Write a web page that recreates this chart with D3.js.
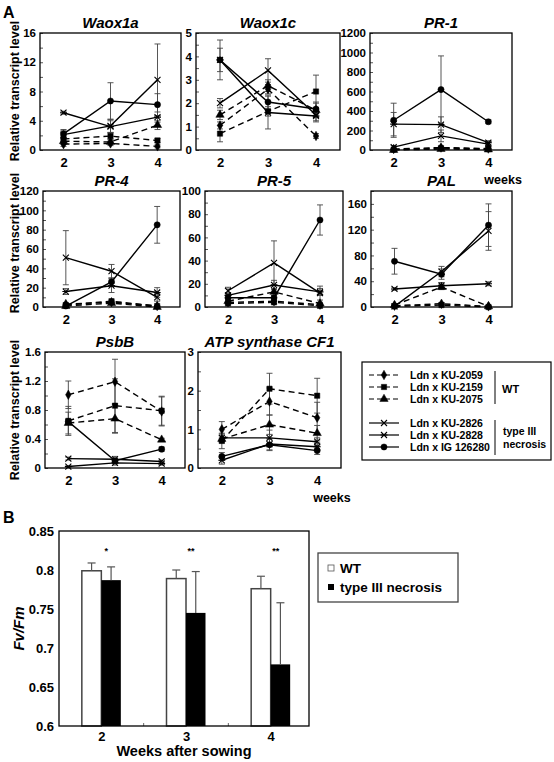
<!DOCTYPE html>
<html><head><meta charset="utf-8">
<script src="https://cdn.jsdelivr.net/npm/d3@7"></script>
<style>
body{margin:0;background:#fff}
svg text{font-family:"Liberation Sans",Arial,Helvetica,sans-serif;font-weight:bold;fill:#000}
</style></head>
<body><svg id="c" width="554" height="762"></svg>
<script>
// ---------------- DATA ----------------
const weeks = [2, 3, 4];
const lineNames = ["Ldn x KU-2059", "Ldn x KU-2159", "Ldn x KU-2075", "Ldn x KU-2826", "Ldn x KU-2828", "Ldn x IG 126280"];
const lineGroups = ["WT", "WT", "WT", "type III necrosis", "type III necrosis", "type III necrosis"];

// rows: KU-2059, KU-2159, KU-2075, KU-2826, KU-2828, IG 126280 ; columns: weeks 2,3,4
const waox1aValues = [[0.8, 0.9, 0.5], [1.5, 1.9, 1.3], [1.2, 1.1, 3.4], [2.1, 3.3, 9.6], [5.1, 3.2, 4.5], [2.2, 6.7, 6.2]];
const waox1aErrors = [[0.3, 0.3, 0.2], [0.5, 0.4, 0.3], [0.4, 0.3, 0.6], [0.6, 0.9, 4.9], [0.2, 0.8, 0.7], [0.6, 2.5, 1.5]];
const waox1cValues = [[1.05, 2.6, 0.6], [0.7, 1.65, 2.5], [1.5, 2.75, 1.7], [2.0, 3.4, 1.5], [3.85, 1.6, 1.45], [3.85, 2.05, 1.75]];
const waox1cErrors = [[0.15, 0.2, 0.1], [0.35, 0.2, 0.7], [0.2, 0.25, 0.3], [0.2, 0.5, 0.3], [0.85, 0.7, 0.2], [0.5, 0.3, 0.3]];
const pr1Values = [[10, 25, 15], [5, 20, 10], [0, 10, 5], [30, 145, 60], [265, 260, 75], [305, 620, 290]];
const pr1Errors = [[5, 10, 5], [5, 10, 5], [3, 5, 3], [15, 60, 15], [120, 80, 20], [175, 345, 20]];
const pr4Values = [[3, 5, 1], [2, 6, 1], [1, 4, 0], [51, 37, 10], [16, 22, 15], [1, 26, 85]];
const pr4Errors = [[1, 1, 0.5], [1, 1, 0.5], [1, 1, 0.5], [28, 7, 4], [3, 7, 5], [1, 4, 19]];
const pr5Values = [[4, 5, 2], [3, 4, 1], [5, 13, 3], [14, 38, 12], [10, 19, 13], [8, 8, 75]];
const pr5Errors = [[1, 2, 1], [1, 1, 1], [1, 3, 1], [3, 19, 6], [2, 4, 3], [2, 2, 13]];
const palValues = [[2, 5, 1], [1, 3, 0], [3, 31, 1], [1, 55, 118], [28, 33, 36], [71, 51, 127]];
const palErrors = [[1, 2, 1], [1, 1, 0.5], [1, 4, 1], [1, 8, 30], [2, 5, 3], [20, 8, 33]];
const psbbValues = [[1.01, 1.19, 0.78], [0.65, 0.86, 0.79], [0.62, 0.68, 0.39], [0.13, 0.12, 0.09], [0.02, 0.07, 0.06], [0.64, 0.10, 0.26]];
const psbbErrors = [[0.19, 0.31, 0.2], [0.2, 0.37, 0.2], [0.15, 0.2, 0.02], [0.02, 0.04, 0.02], [0.01, 0.03, 0.02], [0.03, 0.03, 0.03]];
const atpValues = [[1.0, 1.72, 1.3], [0.7, 2.05, 1.87], [0.75, 1.12, 0.9], [0.78, 0.78, 0.68], [0.2, 0.62, 0.55], [0.3, 0.6, 0.45]];
const atpErrors = [[0.2, 0.35, 0.4], [0.2, 0.4, 0.45], [0.1, 0.25, 0.2], [0.1, 0.2, 0.1], [0.1, 0.15, 0.1], [0.1, 0.15, 0.1]];

// y tick labels
const waox1aTicks = [0, 4, 8, 12, 16];
const waox1cTicks = [0, 1, 2, 3, 4, 5];
const pr1Ticks = [0, 200, 400, 600, 800, 1000, 1200];
const pr4Ticks = [0, 20, 40, 60, 80, 100, 120];
const pr5Ticks = [0, 20, 40, 60, 80, 100];
const palTicks = [0, 40, 80, 120, 160];
const psbbTicks = [0, 0.4, 0.8, 1.2, 1.6];
const atpTicks = [0, 1, 2, 3];

// Panel B
const fvWeeks = ["2", "3", "4"];
const wtFvFm = [0.799, 0.789, 0.776];
const wtFvFmErr = [0.010, 0.011, 0.016];
const necFvFm = [0.787, 0.745, 0.679];
const necFvFmErr = [0.017, 0.053, 0.079];
const fvStars = ["*", "**", "**"];
const fvTicks = [0.6, 0.65, 0.7, 0.75, 0.8, 0.85];

// ---------------- LAYOUT ----------------
const panels = [
  {title: "Waox1a", values: waox1aValues, errors: waox1aErrors, box: [40, 33, 181, 150], max: 16, ticks: waox1aTicks, minor: 2},
  {title: "Waox1c", values: waox1cValues, errors: waox1cErrors, box: [196, 33, 340, 150], max: 5, ticks: waox1cTicks, minor: 0.5},
  {title: "PR-1", values: pr1Values, errors: pr1Errors, box: [370, 33, 512, 150], max: 1200, ticks: pr1Ticks, minor: 100, weeksLabel: true},
  {title: "PR-4", values: pr4Values, errors: pr4Errors, box: [43, 191, 180, 307], max: 120, ticks: pr4Ticks, minor: 10},
  {title: "PR-5", values: pr5Values, errors: pr5Errors, box: [205, 191, 343, 307], max: 100, ticks: pr5Ticks, minor: 10},
  {title: "PAL", values: palValues, errors: palErrors, box: [371, 191, 512, 307], max: 180, ticks: palTicks, minor: 20},
  {title: "PsbB", values: psbbValues, errors: psbbErrors, box: [45, 352, 185, 468], max: 1.6, ticks: psbbTicks, minor: 0.2},
  {title: "ATP synthase CF1", values: atpValues, errors: atpErrors, box: [198, 352, 341, 468], max: 3, ticks: atpTicks, minor: 0.5, weeksLabel: true}
];
const rowLabelY = [91, 243, 410];

const svg = d3.select("#c");

// marker shapes
const markerKinds = ["diamond", "square", "triangle", "cross", "star", "circle"];
function markerPath(kind) {
  const s = 3;
  switch (kind) {
    case "diamond": return d3.symbol(d3.symbolDiamond, 26)();
    case "square": return d3.symbol(d3.symbolSquare, 28)();
    case "triangle": return d3.symbol(d3.symbolTriangle, 30)();
    case "circle": return d3.symbol(d3.symbolCircle, 30)();
    case "cross": return `M${-s},${-s}L${s},${s}M${-s},${s}L${s},${-s}`;
    case "star": return `M${-s},${-s}L${s},${s}M${-s},${s}L${s},${-s}M${-s - 0.5},0L${s + 0.5},0`;
  }
}
function drawMarker(g, kind, cx, cy) {
  const open = kind === "cross" || kind === "star";
  g.append("path").attr("d", markerPath(kind)).attr("transform", `translate(${cx},${cy})`)
    .attr("fill", open ? "none" : "#000").attr("stroke", "#000").attr("stroke-width", open ? 1.1 : 0.5);
}

// "A"
svg.append("text").attr("x", 3).attr("y", 18).attr("font-size", 16).text("A");

panels.forEach((p, pi) => {
  const [x0, y0, x1, y1] = p.box;
  const x = d3.scaleLinear().domain([1.5, 4.5]).range([x0, x1]);
  const y = d3.scaleLinear().domain([0, p.max]).range([y1, y0]);
  const g = svg.append("g");
  const fmt = d => (d === 0 ? "0" : d3.format("~g")(+d.toFixed(2)));

  // y axis labels
  const ya = g.append("g").attr("transform", `translate(${x0},0)`)
    .call(d3.axisLeft(y).tickValues(p.ticks).tickSize(0).tickPadding(4).tickFormat(fmt));
  ya.select(".domain").remove();
  ya.selectAll("text").attr("font-size", 11.5).attr("font-family", null).attr("fill", "#000");
  // inner minor ticks
  const minorVals = d3.range(0, p.max + p.minor / 2, p.minor);
  const ym = g.append("g").attr("transform", `translate(${x0},0)`)
    .call(d3.axisRight(y).tickValues(minorVals).tickSize(3).tickFormat(""));
  ym.select(".domain").remove();
  ym.selectAll("line").attr("stroke", "#555");

  // x axis labels
  const xa = g.append("g").attr("transform", `translate(0,${y1})`)
    .call(d3.axisBottom(x).tickValues(weeks).tickSize(0).tickPadding(8).tickFormat(d3.format("d")));
  xa.select(".domain").remove();
  xa.selectAll("text").attr("font-size", 13).attr("font-family", null).attr("fill", "#000");

  if (p.weeksLabel) {
    g.append("text").attr("x", x(4) - 4).attr("y", y1 + 34).attr("font-size", 12.5).text("weeks");
  }

  // title
  g.append("text").attr("x", (x0 + x1) / 2).attr("y", y0 - 5).attr("text-anchor", "middle")
    .attr("font-size", 15).attr("font-style", "italic").text(p.title);

  // error bars
  p.values.forEach((vals, si) => {
    vals.forEach((v, wi) => {
      const e = p.errors[si][wi];
      const lo = Math.max(0, v - e), hi = v + e;
      const cx = x(weeks[wi]);
      g.append("line").attr("x1", cx).attr("x2", cx).attr("y1", y(lo)).attr("y2", y(hi))
        .attr("stroke", "#444").attr("stroke-width", 0.9);
      [lo, hi].forEach(b => {
        if (b === 0) return;
        g.append("line").attr("x1", cx - 3).attr("x2", cx + 3).attr("y1", y(b)).attr("y2", y(b))
          .attr("stroke", "#444").attr("stroke-width", 0.9);
      });
    });
  });

  // lines
  const line = d3.line().x((d, i) => x(weeks[i])).y(d => y(d));
  p.values.forEach((vals, si) => {
    g.append("path").attr("d", line(vals)).attr("fill", "none").attr("stroke", "#000")
      .attr("stroke-width", 1.4)
      .attr("stroke-dasharray", lineGroups[si] === "WT" ? "6,4" : null);
  });
  // markers
  p.values.forEach((vals, si) => {
    vals.forEach((v, wi) => drawMarker(g, markerKinds[si], x(weeks[wi]), y(v)));
  });

  // box
  g.append("rect").attr("x", x0).attr("y", y0).attr("width", x1 - x0).attr("height", y1 - y0)
    .attr("fill", "none").attr("stroke", "#000").attr("stroke-width", 1.3);
});

// row y-axis titles
rowLabelY.forEach(cy => {
  svg.append("text").attr("transform", `translate(19,${cy}) rotate(-90)`).attr("text-anchor", "middle")
    .attr("font-size", 12.5).text("Relative transcript level");
});

// legend A
(function () {
  const lg = svg.append("g");
  lg.append("rect").attr("x", 362).attr("y", 362).attr("width", 189).attr("height", 98)
    .attr("fill", "none").attr("stroke", "#000").attr("stroke-width", 1.2);
  const rowsY = [375, 387, 399, 423, 435, 447];
  lineNames.forEach((name, i) => {
    const cy = rowsY[i];
    lg.append("line").attr("x1", 369).attr("x2", 399).attr("y1", cy).attr("y2", cy)
      .attr("stroke", "#000").attr("stroke-width", 1.2)
      .attr("stroke-dasharray", lineGroups[i] === "WT" ? "5,3" : null);
    drawMarker(lg, markerKinds[i], 384, cy);
    lg.append("text").attr("x", 410).attr("y", cy + 4).attr("font-size", 10.5).text(name);
  });
  lg.append("line").attr("x1", 495).attr("x2", 495).attr("y1", 371).attr("y2", 404).attr("stroke", "#000").attr("stroke-width", 1);
  lg.append("line").attr("x1", 495).attr("x2", 495).attr("y1", 420).attr("y2", 455).attr("stroke", "#000").attr("stroke-width", 1);
  lg.append("text").attr("x", 502).attr("y", 393).attr("font-size", 11).text("WT");
  lg.append("text").attr("x", 503).attr("y", 435).attr("font-size", 10.5).text("type III");
  lg.append("text").attr("x", 503).attr("y", 448).attr("font-size", 10.5).text("necrosis");
})();

// ---------------- PANEL B ----------------
(function () {
  const bx0 = 59, bx1 = 309, by0 = 531, by1 = 726;
  const g = svg.append("g");
  g.append("text").attr("x", 3).attr("y", 523).attr("font-size", 16).text("B");
  const xb = d3.scalePoint().domain(fvWeeks).range([bx0, 313]).padding(0.5);
  const yb = d3.scaleLinear().domain([0.6, 0.85]).range([by1, by0]);
  const bw = 19.5;

  const ya = g.append("g").attr("transform", `translate(${bx0},0)`)
    .call(d3.axisLeft(yb).tickValues(fvTicks).tickSize(0).tickPadding(5).tickFormat(d => String(+d.toFixed(2))));
  ya.select(".domain").remove();
  ya.selectAll("text").attr("font-size", 13).attr("font-family", null).attr("fill", "#000");

  const xa = g.append("g").attr("transform", `translate(0,${by1})`)
    .call(d3.axisBottom(xb).tickSize(0).tickPadding(6));
  xa.select(".domain").remove();
  xa.selectAll("text").attr("font-size", 13).attr("font-family", null).attr("fill", "#000");

  // inner boundary ticks
  const step = xb.step();
  [xb("2") + step / 2, xb("3") + step / 2].forEach(tx => {
    g.append("line").attr("x1", tx).attr("x2", tx).attr("y1", by1).attr("y2", by1 - 3).attr("stroke", "#666");
  });

  fvWeeks.forEach((w, i) => {
    const cx = xb(w);
    // WT bar
    g.append("rect").attr("x", cx - bw).attr("y", yb(wtFvFm[i])).attr("width", bw).attr("height", by1 - yb(wtFvFm[i]))
      .attr("fill", "#fff").attr("stroke", "#444").attr("stroke-width", 1.5);
    // necrosis bar
    g.append("rect").attr("x", cx).attr("y", yb(necFvFm[i])).attr("width", bw).attr("height", by1 - yb(necFvFm[i]))
      .attr("fill", "#000");
    // error bars (upper)
    [[cx - bw / 2, wtFvFm[i], wtFvFmErr[i]], [cx + bw / 2, necFvFm[i], necFvFmErr[i]]].forEach(([ex, v, e]) => {
      g.append("line").attr("x1", ex).attr("x2", ex).attr("y1", yb(v)).attr("y2", yb(v + e)).attr("stroke", "#555").attr("stroke-width", 1.2);
      g.append("line").attr("x1", ex - 4).attr("x2", ex + 4).attr("y1", yb(v + e)).attr("y2", yb(v + e)).attr("stroke", "#555").attr("stroke-width", 1.2);
    });
    g.append("text").attr("x", cx + 5).attr("y", yb(0.821)).attr("text-anchor", "middle").attr("font-size", 9)
      .attr("font-weight", "normal").text(fvStars[i]);
  });

  g.append("rect").attr("x", bx0).attr("y", by0).attr("width", bx1 - bx0).attr("height", by1 - by0)
    .attr("fill", "none").attr("stroke", "#000").attr("stroke-width", 1.3);

  g.append("text").attr("x", (bx0 + bx1) / 2).attr("y", 756).attr("text-anchor", "middle").attr("font-size", 14.5)
    .text("Weeks after sowing");
  g.append("text").attr("transform", `translate(24,${(by0 + by1) / 2}) rotate(-90)`).attr("text-anchor", "middle")
    .attr("font-size", 15).attr("font-style", "italic").text("Fv/Fm");

  // legend B
  g.append("rect").attr("x", 318).attr("y", 553).attr("width", 140).attr("height", 49)
    .attr("fill", "none").attr("stroke", "#444").attr("stroke-width", 1.3);
  g.append("rect").attr("x", 328).attr("y", 565).attr("width", 6).attr("height", 6).attr("fill", "#fff").attr("stroke", "#555").attr("stroke-width", 0.8);
  g.append("text").attr("x", 340).attr("y", 573).attr("font-size", 13.5).text("WT");
  g.append("rect").attr("x", 328).attr("y", 584).attr("width", 6).attr("height", 6).attr("fill", "#000");
  g.append("text").attr("x", 340).attr("y", 592).attr("font-size", 13.5).text("type III necrosis");
})();
</script></body></html>
